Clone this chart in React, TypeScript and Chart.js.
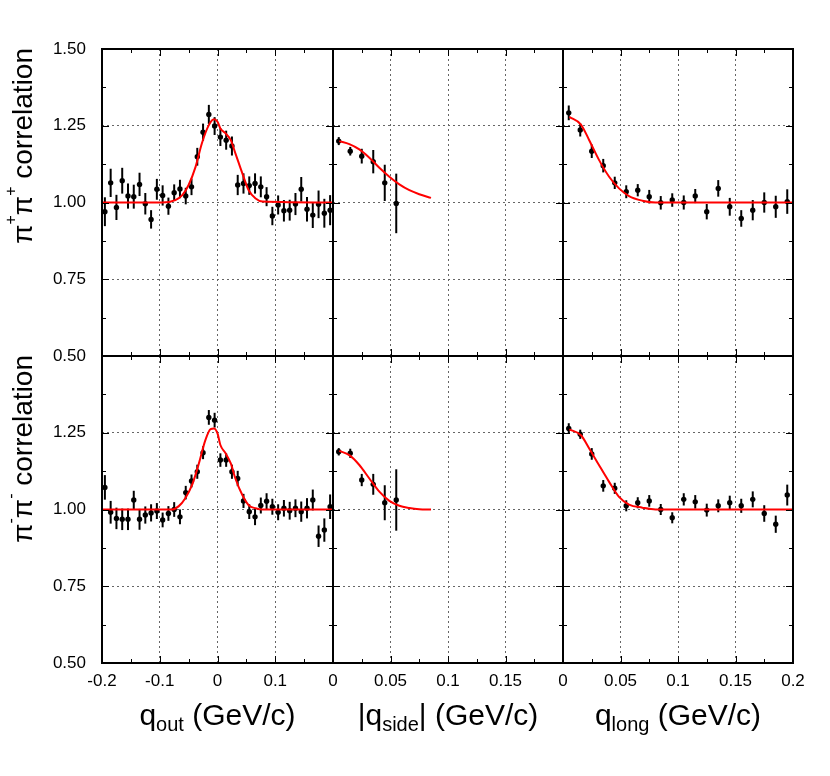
import React, { useEffect, useRef } from "react";
import { Chart, registerables } from "chart.js";

Chart.register(...registerables);

// ---------- data ----------
const QOUT_BINS = [
  -0.195, -0.185, -0.175, -0.165, -0.155, -0.145, -0.135, -0.125, -0.115, -0.105,
  -0.095, -0.085, -0.075, -0.065, -0.055, -0.045, -0.035, -0.025, -0.015, -0.005,
  0.005, 0.015, 0.025, 0.035, 0.045, 0.055, 0.065, 0.075, 0.085, 0.095,
  0.105, 0.115, 0.125, 0.135, 0.145, 0.155, 0.165, 0.175, 0.185, 0.195,
];
const QSIDE_BINS = [0.005, 0.015, 0.025, 0.035, 0.045, 0.055];
const QLONG_BINS = [
  0.005, 0.015, 0.025, 0.035, 0.045, 0.055, 0.065, 0.075, 0.085, 0.095,
  0.105, 0.115, 0.125, 0.135, 0.145, 0.155, 0.165, 0.175, 0.185, 0.195,
];

// pi+ pi+
const PP_OUT = [
  0.970, 1.064, 0.984, 1.071, 1.021, 1.019, 1.059, 0.996, 0.945, 1.043,
  1.023, 0.988, 1.032, 1.044, 1.021, 1.051, 1.149, 1.229, 1.287, 1.249,
  1.213, 1.203, 1.184, 1.057, 1.062, 1.055, 1.062, 1.051, 1.019, 0.956,
  0.992, 0.973, 0.975, 0.995, 1.043, 0.978, 0.959, 0.994, 0.965, 0.975,
];
const PP_OUT_ERR = [
  0.047, 0.046, 0.041, 0.042, 0.041, 0.039, 0.038, 0.035, 0.030, 0.034,
  0.033, 0.028, 0.027, 0.030, 0.027, 0.027, 0.029, 0.028, 0.031, 0.029,
  0.029, 0.031, 0.031, 0.033, 0.033, 0.030, 0.033, 0.034, 0.031, 0.030,
  0.031, 0.035, 0.034, 0.036, 0.040, 0.040, 0.042, 0.045, 0.047, 0.049,
];
const PP_SIDE = [1.200, 1.167, 1.151, 1.133, 1.064, 0.997];
const PP_SIDE_ERR = [0.013, 0.014, 0.024, 0.038, 0.059, 0.097];
const PP_LONG = [
  1.292, 1.236, 1.167, 1.120, 1.064, 1.035, 1.040, 1.019, 0.999, 1.008,
  1.000, 1.021, 0.970, 1.046, 0.986, 0.948, 0.975, 1.000, 0.986, 1.003,
];
const PP_LONG_ERR = [
  0.024, 0.021, 0.022, 0.022, 0.020, 0.021, 0.020, 0.022, 0.022, 0.022,
  0.023, 0.023, 0.025, 0.027, 0.029, 0.027, 0.033, 0.033, 0.036, 0.040,
];

// pi- pi-
const MM_OUT = [
  1.072, 0.991, 0.971, 0.968, 0.968, 1.031, 0.968, 0.982, 0.989, 0.995,
  0.966, 0.987, 1.000, 0.976, 1.055, 1.093, 1.123, 1.185, 1.300, 1.291,
  1.161, 1.161, 1.123, 1.101, 1.028, 0.993, 0.976, 1.013, 1.027, 1.009,
  0.991, 1.004, 0.996, 1.004, 0.993, 1.004, 1.031, 0.913, 0.933, 1.009,
];
const MM_OUT_ERR = [
  0.040, 0.037, 0.035, 0.035, 0.035, 0.030, 0.034, 0.028, 0.028, 0.026,
  0.024, 0.024, 0.024, 0.024, 0.022, 0.021, 0.023, 0.021, 0.024, 0.024,
  0.022, 0.022, 0.023, 0.025, 0.023, 0.024, 0.027, 0.026, 0.026, 0.026,
  0.026, 0.027, 0.029, 0.029, 0.033, 0.033, 0.034, 0.035, 0.038, 0.040,
];
const MM_SIDE = [1.188, 1.183, 1.096, 1.082, 1.022, 1.031];
const MM_SIDE_ERR = [0.012, 0.015, 0.020, 0.034, 0.057, 0.100];
const MM_LONG = [
  1.264, 1.245, 1.181, 1.077, 1.069, 1.012, 1.022, 1.028, 1.000, 0.973,
  1.033, 1.025, 0.998, 1.012, 1.022, 1.012, 1.033, 0.987, 0.952, 1.047,
];
const MM_LONG_ERR = [
  0.017, 0.015, 0.019, 0.019, 0.018, 0.018, 0.018, 0.019, 0.018, 0.018,
  0.020, 0.022, 0.021, 0.021, 0.023, 0.023, 0.026, 0.027, 0.028, 0.034,
];

// fit curves
const PP_OUT_FIT_X = [-0.2, -0.096, -0.073, -0.061, -0.05, -0.038, -0.027, -0.015, -0.006, 0.0, 0.005, 0.014, 0.023, 0.031, 0.043, 0.054, 0.066, 0.078, 0.2];
const PP_OUT_FIT_Y = [1.0, 1.0, 1.008, 1.024, 1.057, 1.116, 1.193, 1.252, 1.271, 1.263, 1.241, 1.225, 1.203, 1.16, 1.095, 1.04, 1.013, 1.003, 1.0];
const MM_OUT_FIT_X = [-0.2, -0.079, -0.067, -0.056, -0.044, -0.033, -0.021, -0.012, -0.006, 0.0, 0.005, 0.014, 0.023, 0.031, 0.043, 0.054, 0.066, 0.078, 0.2];
const MM_OUT_FIT_Y = [1.0, 1.0, 1.011, 1.036, 1.08, 1.145, 1.226, 1.262, 1.264, 1.248, 1.21, 1.183, 1.15, 1.101, 1.047, 1.014, 1.004, 1.0, 1.0];
const SIDE_FIT_X = [0.0055, 0.0142, 0.0229, 0.0316, 0.0403, 0.049, 0.0577, 0.0664, 0.075, 0.0852];
const PP_SIDE_FIT_Y = [1.2, 1.19, 1.173, 1.146, 1.113, 1.084, 1.059, 1.04, 1.027, 1.015];
const MM_SIDE_FIT_Y = [1.191, 1.177, 1.145, 1.101, 1.058, 1.028, 1.012, 1.005, 1.001, 1.0];
const LONG_FIT_X = [0.0055, 0.0156, 0.0228, 0.0314, 0.0401, 0.0487, 0.0574, 0.069, 0.0805, 0.2];
const PP_LONG_FIT_Y = [1.279, 1.254, 1.203, 1.138, 1.084, 1.046, 1.021, 1.006, 1.0, 1.0];
const MM_LONG_FIT_Y = [1.261, 1.242, 1.199, 1.144, 1.09, 1.041, 1.016, 1.006, 1.0, 1.0];

// ticks
const Y_MAJOR = [0.5, 0.75, 1.0, 1.25, 1.5];
const Y_MINOR = [0.625, 0.875, 1.125, 1.375];
const OUT_MAJOR = [-0.2, -0.1, 0, 0.1, 0.2];
const OUT_MINOR = [-0.15, -0.05, 0.05, 0.15];
const Q_MAJOR = [0, 0.05, 0.1, 0.15, 0.2];
const Q_MINOR = [0.025, 0.075, 0.125, 0.175];
const Y_LABELS_TOP = [0.5, 0.75, 1.0, 1.25, 1.5];
const Y_LABELS_BOTTOM = [0.5, 0.75, 1.0, 1.25];
const X_LABELS_OUT = [-0.2, -0.1, 0, 0.1];
const X_LABELS_SIDE = [0, 0.05, 0.1, 0.15];
const X_LABELS_LONG = [0, 0.05, 0.1, 0.15, 0.2];

// ---------- layout ----------
const COL_EDGES = [102, 333, 563, 793];
const ROW_EDGES = [49, 356, 663];
const PAD_L = 100;
const PAD_R = 36;
const PAD_T = 40;
const PAD_B = 60;
const FONT = '"Liberation Sans", Arial, Helvetica, sans-serif';

const has = (arr: number[], v: number) => arr.some((a) => Math.abs(a - v) < 1e-9);
const fmtX = (v: number) => String(parseFloat(v.toFixed(3)));

const frameTicks = {
  id: "frameTicks",
  beforeDatasetsDraw(chart: any) {
    const { ctx, chartArea: a, scales } = chart;
    const xs = scales.x;
    const ys = scales.y;
    ctx.save();
    ctx.beginPath();
    ctx.rect(a.left, a.top, a.right - a.left, a.bottom - a.top);
    ctx.clip();
    ctx.strokeStyle = "#000";
    ctx.lineWidth = 2;
    chart.data.datasets.forEach((ds: any) => {
      if (!ds.errors) return;
      ds.data.forEach((p: any, i: number) => {
        const e = ds.errors[i];
        const px = xs.getPixelForValue(p.x);
        const y1 = ys.getPixelForValue(p.y - e);
        const y2 = ys.getPixelForValue(p.y + e);
        ctx.beginPath();
        ctx.moveTo(px, y1);
        ctx.lineTo(px, y2);
        ctx.stroke();
      });
    });
    ctx.restore();
  },
  afterDraw(chart: any, _args: any, opts: any) {
    const { ctx, chartArea: a, scales } = chart;
    const xs = scales.x;
    const ys = scales.y;
    ctx.save();
    ctx.strokeStyle = "#000";
    ctx.lineWidth = 1;
    const xTick = (v: number, len: number) => {
      const px = Math.round(xs.getPixelForValue(v)) + 0.5;
      ctx.beginPath();
      ctx.moveTo(px, a.bottom);
      ctx.lineTo(px, a.bottom - len);
      ctx.moveTo(px, a.top);
      ctx.lineTo(px, a.top + len);
      ctx.stroke();
    };
    const yTick = (v: number, len: number) => {
      const py = Math.round(ys.getPixelForValue(v)) + 0.5;
      ctx.beginPath();
      ctx.moveTo(a.left, py);
      ctx.lineTo(a.left + len, py);
      ctx.moveTo(a.right, py);
      ctx.lineTo(a.right - len, py);
      ctx.stroke();
    };
    opts.xMajor.forEach((v: number) => xTick(v, 7));
    opts.xMinor.forEach((v: number) => xTick(v, 4));
    opts.yMajor.forEach((v: number) => yTick(v, 7));
    opts.yMinor.forEach((v: number) => yTick(v, 4));
    ctx.lineWidth = 2;
    ctx.strokeRect(a.left, a.top, a.right - a.left, a.bottom - a.top);
    ctx.restore();
  },
};

type PanelProps = {
  row: number;
  col: number;
  bins: number[];
  values: number[];
  errors: number[];
  fitX: number[];
  fitY: number[];
  xMin: number;
  xMax: number;
  xMajor: number[];
  xMinor: number[];
  xLabels: number[];
  yLabels: number[];
};

function Panel(p: PanelProps) {
  const ref = useRef<HTMLCanvasElement | null>(null);
  const L = COL_EDGES[p.col];
  const R = COL_EDGES[p.col + 1];
  const T = ROW_EDGES[p.row];
  const B = ROW_EDGES[p.row + 1];
  const w = R - L + PAD_L + PAD_R;
  const h = B - T + PAD_T + PAD_B;

  useEffect(() => {
    if (!ref.current) return;
    const points = p.bins.map((x, i) => ({ x, y: p.values[i] }));
    const fit = p.fitX.map((x, i) => ({ x, y: p.fitY[i] }));
    const chart = new Chart(ref.current, {
      type: "scatter",
      data: {
        datasets: [
          {
            type: "line",
            label: "fit",
            data: fit,
            borderColor: "#ff0000",
            borderWidth: 2,
            pointRadius: 0,
            fill: false,
            cubicInterpolationMode: "monotone",
          } as any,
          {
            type: "scatter",
            label: "data",
            data: points,
            errors: p.errors,
            pointRadius: 2.7,
            pointBackgroundColor: "#000",
            pointBorderColor: "#000",
            pointBorderWidth: 0,
            showLine: false,
          } as any,
        ],
      },
      options: {
        responsive: false,
        animation: false,
        events: [],
        layout: { autoPadding: false, padding: { left: 0, right: PAD_R, top: PAD_T, bottom: 0 } },
        plugins: {
          legend: { display: false },
          tooltip: { enabled: false },
          frameTicks: {
            xMajor: p.xMajor,
            xMinor: p.xMinor,
            yMajor: Y_MAJOR,
            yMinor: Y_MINOR,
          },
        } as any,
        scales: {
          x: {
            type: "linear",
            min: p.xMin,
            max: p.xMax,
            afterBuildTicks: (s: any) => {
              s.ticks = p.xMajor.map((v) => ({ value: v }));
            },
            afterFit: (s: any) => {
              s.height = PAD_B;
            },
            ticks: {
              display: p.row === 1,
              autoSkip: false,
              maxRotation: 0,
              padding: 8,
              color: "#000",
              font: { family: FONT, size: 17 },
              callback: (v: any) => (has(p.xLabels, Number(v)) ? fmtX(Number(v)) : ""),
            },
            grid: { color: "#666", lineWidth: 1, drawTicks: false },
            border: { display: false, dash: [2, 3] },
          },
          y: {
            type: "linear",
            min: 0.5,
            max: 1.5,
            afterBuildTicks: (s: any) => {
              s.ticks = Y_MAJOR.map((v) => ({ value: v }));
            },
            afterFit: (s: any) => {
              s.width = PAD_L;
            },
            ticks: {
              display: p.col === 0,
              autoSkip: false,
              padding: 16,
              color: "#000",
              font: { family: FONT, size: 17 },
              callback: (v: any) => (has(p.yLabels, Number(v)) ? Number(v).toFixed(2) : ""),
            },
            grid: { color: "#666", lineWidth: 1, drawTicks: false },
            border: { display: false, dash: [2, 3] },
          },
        },
      } as any,
      plugins: [frameTicks as any],
    });
    return () => chart.destroy();
  }, []);

  return (
    <canvas
      ref={ref}
      width={w}
      height={h}
      style={{ position: "absolute", left: L - PAD_L, top: T - PAD_T, width: w, height: h }}
    />
  );
}

const supStyle: React.CSSProperties = { fontSize: 16, position: "relative", top: -16 };
const subStyle: React.CSSProperties = { fontSize: 20, position: "relative", top: 6 };

function YTitle({ row, sign }: { row: number; sign: string }) {
  const bottom = ROW_EDGES[row + 1];
  const height = ROW_EDGES[row + 1] - ROW_EDGES[row];
  return (
    <div
      style={{
        position: "absolute",
        left: 9,
        top: bottom,
        width: height + 1,
        height: 28,
        lineHeight: "28px",
        fontSize: 28,
        fontFamily: FONT,
        textAlign: "right",
        whiteSpace: "nowrap",
        transformOrigin: "0 0",
        transform: "rotate(-90deg)",
        color: "#000",
      }}
    >
      π<span style={supStyle}>{sign}</span>π<span style={supStyle}>{sign}</span> correlation
    </div>
  );
}

function XTitle({ col, children }: { col: number; children: React.ReactNode }) {
  const c = (COL_EDGES[col] + COL_EDGES[col + 1]) / 2;
  return (
    <div
      style={{
        position: "absolute",
        left: c - 150,
        top: 700,
        width: 300,
        height: 30,
        lineHeight: "30px",
        fontSize: 30,
        fontFamily: FONT,
        textAlign: "center",
        whiteSpace: "nowrap",
        color: "#000",
      }}
    >
      {children}
    </div>
  );
}

export default function App() {
  return (
    <div style={{ position: "absolute", left: 0, top: 0, width: 830, height: 776, background: "#fff", overflow: "hidden" }}>
      <Panel row={0} col={0} bins={QOUT_BINS} values={PP_OUT} errors={PP_OUT_ERR} fitX={PP_OUT_FIT_X} fitY={PP_OUT_FIT_Y}
        xMin={-0.2} xMax={0.2} xMajor={OUT_MAJOR} xMinor={OUT_MINOR} xLabels={X_LABELS_OUT} yLabels={Y_LABELS_TOP} />
      <Panel row={0} col={1} bins={QSIDE_BINS} values={PP_SIDE} errors={PP_SIDE_ERR} fitX={SIDE_FIT_X} fitY={PP_SIDE_FIT_Y}
        xMin={0} xMax={0.2} xMajor={Q_MAJOR} xMinor={Q_MINOR} xLabels={X_LABELS_SIDE} yLabels={[]} />
      <Panel row={0} col={2} bins={QLONG_BINS} values={PP_LONG} errors={PP_LONG_ERR} fitX={LONG_FIT_X} fitY={PP_LONG_FIT_Y}
        xMin={0} xMax={0.2} xMajor={Q_MAJOR} xMinor={Q_MINOR} xLabels={X_LABELS_LONG} yLabels={[]} />
      <Panel row={1} col={0} bins={QOUT_BINS} values={MM_OUT} errors={MM_OUT_ERR} fitX={MM_OUT_FIT_X} fitY={MM_OUT_FIT_Y}
        xMin={-0.2} xMax={0.2} xMajor={OUT_MAJOR} xMinor={OUT_MINOR} xLabels={X_LABELS_OUT} yLabels={Y_LABELS_BOTTOM} />
      <Panel row={1} col={1} bins={QSIDE_BINS} values={MM_SIDE} errors={MM_SIDE_ERR} fitX={SIDE_FIT_X} fitY={MM_SIDE_FIT_Y}
        xMin={0} xMax={0.2} xMajor={Q_MAJOR} xMinor={Q_MINOR} xLabels={X_LABELS_SIDE} yLabels={[]} />
      <Panel row={1} col={2} bins={QLONG_BINS} values={MM_LONG} errors={MM_LONG_ERR} fitX={LONG_FIT_X} fitY={MM_LONG_FIT_Y}
        xMin={0} xMax={0.2} xMajor={Q_MAJOR} xMinor={Q_MINOR} xLabels={X_LABELS_LONG} yLabels={[]} />
      <YTitle row={0} sign="+" />
      <YTitle row={1} sign="-" />
      <XTitle col={0}>
        q<span style={subStyle}>out</span> (GeV/c)
      </XTitle>
      <XTitle col={1}>
        |q<span style={subStyle}>side</span>| (GeV/c)
      </XTitle>
      <XTitle col={2}>
        q<span style={subStyle}>long</span> (GeV/c)
      </XTitle>
    </div>
  );
}
